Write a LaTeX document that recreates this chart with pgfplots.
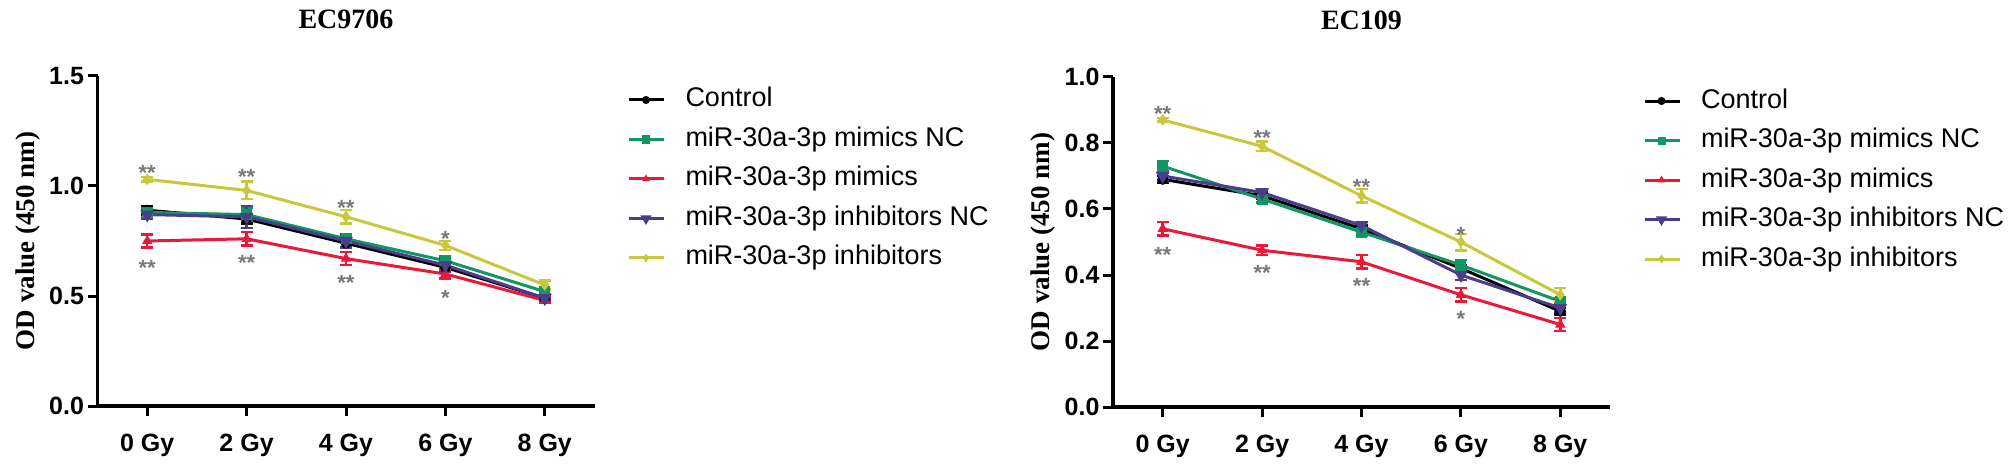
\documentclass[border=0pt]{standalone}
\usepackage{fontspec}
\setmainfont{Liberation Sans}
\newfontfamily\tnr{Liberation Serif}
\usepackage{pgfplots}
\pgfplotsset{compat=1.18}
\definecolor{cgreen}{RGB}{18,150,100}
\definecolor{cred}{RGB}{235,25,55}
\definecolor{cpurple}{RGB}{75,60,140}
\definecolor{cyellow}{RGB}{200,200,60}
\definecolor{cstar}{RGB}{120,120,120}
\tikzset{starnode/.style={font=\fontsize{22}{26}\selectfont\bfseries, text=cstar, anchor=base, yshift=-12pt, inner sep=0pt}}
\pgfplotsset{
  ser/.style={color=#1, line width=3pt, mark size=5pt, mark options={solid, fill=#1, line width=1pt},
    error bars/y dir=both, error bars/y explicit,
    error bars/error mark=|,
    error bars/error bar style={line width=2.5pt, color=#1},
    error bars/error mark options={line width=2.5pt, mark size=6pt, color=#1}},
  odstyle/.style={
    scale only axis, width=497pt, height=330pt,
    axis lines*=left, axis line style={line width=3.5pt, -},
    xmin=-0.5, xmax=4.5, ymin=0, clip=false,
    xtick={0,1,2,3,4}, xticklabels={0 Gy,2 Gy,4 Gy,6 Gy,8 Gy},
    tick align=outside, major tick length=10pt,
    every tick/.style={line width=3pt, black},
    xtick pos=bottom, ytick pos=left,
    /pgf/number format/assume math mode=true,
    ticklabel style={font=\fontsize{25}{30}\selectfont\bfseries},
    yticklabel style={/pgf/number format/.cd, fixed, fixed zerofill, precision=1},
    xticklabel style={yshift=-15pt},
    ylabel={OD value (450 nm)},
    ylabel style={font=\tnr\bfseries\fontsize{27}{30}\selectfont, at={(axis description cs:-0.14,0.5)}, anchor=center},
    title style={font=\tnr\bfseries\fontsize{28}{32}\selectfont, at={(0.5,1)}, anchor=base, yshift=41pt},
    legend style={at={(1,1)}, anchor=north west, xshift=33pt, yshift=-11pt, draw=none, fill=none,
      inner sep=0pt, outer sep=0pt, font=\fontsize{27}{32}\selectfont, row sep=13.5pt,
      nodes={inner sep=0pt, text height=20pt, text depth=6pt},
      /tikz/every odd column/.append style={column sep=20pt}},
    legend cell align=left,
    legend image code/.code={\draw[mark repeat=2, mark phase=2, #1, mark size=3.5pt] plot coordinates {(0pt,0pt) (17pt,0pt) (35pt,0pt)};},
  },
}
\begin{document}
\begin{tikzpicture}
\path[use as bounding box] (0,0) rectangle (2008pt,469pt);
\begin{axis}[odstyle, at={(97.5pt,63pt)}, anchor=south west, ymax=1.5, ytick={0,0.5,1,1.5}, title={EC9706}]
\addplot[ser=black, mark=*] coordinates {(0,0.89) +- (0,0.02) (1,0.85) +- (0,0.02) (2,0.74) +- (0,0.02) (3,0.63) +- (0,0.02) (4,0.49) +- (0,0.01)};
\addlegendentry{Control}
\addplot[ser=cgreen, mark=square*] coordinates {(0,0.88) +- (0,0.02) (1,0.87) +- (0,0.03) (2,0.76) +- (0,0.02) (3,0.66) +- (0,0.02) (4,0.52) +- (0,0.01)};
\addlegendentry{miR-30a-3p mimics NC}
\addplot[ser=cred, mark=triangle*] coordinates {(0,0.75) +- (0,0.03) (1,0.76) +- (0,0.03) (2,0.67) +- (0,0.03) (3,0.60) +- (0,0.02) (4,0.48) +- (0,0.01)};
\addlegendentry{miR-30a-3p mimics}
\addplot[ser=cpurple, mark=triangle*, mark options={rotate=180}] coordinates {(0,0.87) +- (0,0.02) (1,0.86) +- (0,0.05) (2,0.75) +- (0,0.03) (3,0.64) +- (0,0.03) (4,0.49) +- (0,0.01)};
\addlegendentry{miR-30a-3p inhibitors NC}
\addplot[ser=cyellow, mark=diamond*] coordinates {(0,1.03) +- (0,0.01) (1,0.98) +- (0,0.04) (2,0.86) +- (0,0.03) (3,0.73) +- (0,0.02) (4,0.55) +- (0,0.02)};
\addlegendentry{miR-30a-3p inhibitors}
\node[starnode] at (axis cs:0,1.08) {**};
\node[starnode] at (axis cs:1,1.06) {**};
\node[starnode] at (axis cs:2,0.92) {**};
\node[starnode] at (axis cs:3,0.78) {*};
\node[starnode] at (axis cs:0,0.65) {**};
\node[starnode] at (axis cs:1,0.67) {**};
\node[starnode] at (axis cs:2,0.58) {**};
\node[starnode] at (axis cs:3,0.51) {*};
\end{axis}
\begin{axis}[odstyle, at={(1113pt,62pt)}, anchor=south west, ymax=1.0, ytick={0,0.2,0.4,0.6,0.8,1.0}, title={EC109}]
\addplot[ser=black, mark=*] coordinates {(0,0.69) +- (0,0.01) (1,0.64) +- (0,0.01) (2,0.54) +- (0,0.01) (3,0.42) +- (0,0.01) (4,0.29) +- (0,0.01)};
\addlegendentry{Control}
\addplot[ser=cgreen, mark=square*] coordinates {(0,0.73) +- (0,0.015) (1,0.63) +- (0,0.01) (2,0.53) +- (0,0.01) (3,0.43) +- (0,0.015) (4,0.32) +- (0,0.01)};
\addlegendentry{miR-30a-3p mimics NC}
\addplot[ser=cred, mark=triangle*] coordinates {(0,0.54) +- (0,0.02) (1,0.475) +- (0,0.015) (2,0.44) +- (0,0.02) (3,0.34) +- (0,0.02) (4,0.25) +- (0,0.02)};
\addlegendentry{miR-30a-3p mimics}
\addplot[ser=cpurple, mark=triangle*, mark options={rotate=180}] coordinates {(0,0.70) +- (0,0.015) (1,0.65) +- (0,0.01) (2,0.55) +- (0,0.01) (3,0.40) +- (0,0.015) (4,0.30) +- (0,0.01)};
\addlegendentry{miR-30a-3p inhibitors NC}
\addplot[ser=cyellow, mark=diamond*] coordinates {(0,0.87) +- (0,0.005) (1,0.79) +- (0,0.015) (2,0.64) +- (0,0.02) (3,0.50) +- (0,0.025) (4,0.34) +- (0,0.02)};
\addlegendentry{miR-30a-3p inhibitors}
\node[starnode] at (axis cs:0,0.90) {**};
\node[starnode] at (axis cs:1,0.83) {**};
\node[starnode] at (axis cs:2,0.68) {**};
\node[starnode] at (axis cs:3,0.535) {*};
\node[starnode] at (axis cs:0,0.475) {**};
\node[starnode] at (axis cs:1,0.42) {**};
\node[starnode] at (axis cs:2,0.38) {**};
\node[starnode] at (axis cs:3,0.28) {*};
\end{axis}
\end{tikzpicture}
\end{document}
